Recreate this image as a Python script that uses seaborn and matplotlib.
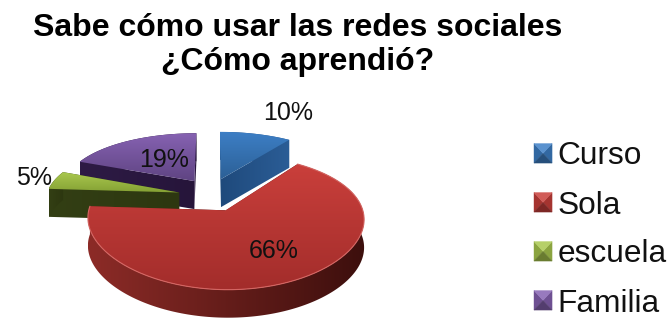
import numpy as np
import matplotlib
matplotlib.use("Agg")
import matplotlib.pyplot as plt
from matplotlib.colors import to_rgb
from matplotlib.patches import Patch, Polygon
from matplotlib.legend_handler import HandlerPatch
import seaborn as sns

title_lines = ["Sabe cómo usar las redes sociales", "¿Cómo aprendió?"]
categories = ["Curso", "Sola", "escuela", "Familia"]
percent_values = [10, 66, 5, 19]

face_light = ["#3d7fc6", "#c93f3b", "#a9c84e", "#8662b2"]
face_dark = ["#2c6096", "#a32d2b", "#84a034", "#5f4482"]
wall_left = ["#1f4a7c", "#8c2b27", "#333f14", "#2e1b45"]
wall_right = ["#2b5d96", "#3d0f0d", "#2d3710", "#26153a"]

sns.set_theme(style="white")
plt.rcParams["font.family"] = ["Liberation Sans", "DejaVu Sans"]
palette = sns.color_palette(face_light)

# Perspective used for the tilted pie, expressed in figure pixels
CX, CY = 210.0, 195.0
RX, RY = 133.0, 60.0
PERSPECTIVE_X, PERSPECTIVE_Y = 0.12, 0.17
EXPLODE = 0.27
DEPTH = 28.0
# Sideways and vertical pull on each pulled-out slice, in pixels
SLICE_NUDGE = {0: (0, -1), 1: (0, 0), 2: (4, 1), 3: (4, -1)}


def project(x, y):
    return (CX + x * RX / (1.0 + PERSPECTIVE_X * y),
            CY - y * RY / (1.0 + PERSPECTIVE_Y * y))


def mix(c0, c1, f):
    a, b = np.array(to_rgb(c0)), np.array(to_rgb(c1))
    return tuple(a + (b - a) * f)


def gradient_fill(ax, xy, first, last, z, horizontal=False):
    poly = Polygon(xy, closed=True, transform=ax.transData, fc="none", ec="none")
    ax.add_patch(poly)
    n = 64
    ramp = np.array([mix(first, last, i / (n - 1)) for i in range(n)])
    ramp = ramp[None, :, :] if horizontal else ramp[:, None, :]
    x0, y0 = xy.min(axis=0)
    x1, y1 = xy.max(axis=0)
    im = ax.imshow(ramp, extent=(x0, x1, y1, y0), aspect="auto", zorder=z,
                   interpolation="bilinear")
    im.set_clip_path(poly)


def draw_slice(ax, start, stop, i, z):
    mid = np.radians((start + stop) / 2)
    ox, oy = EXPLODE * np.sin(mid), EXPLODE * np.cos(mid)
    t = np.radians(np.linspace(start, stop, max(int(stop - start), 6) + 1))
    nudge = np.array(SLICE_NUDGE[i])
    rim = np.column_stack(project(ox + np.sin(t), oy + np.cos(t))) + nudge
    apex = np.array(project(ox, oy)) + nudge
    drop = np.array([0, DEPTH])
    left, right = wall_left[i], wall_right[i]
    # Flat cut faces at both ends of the slice
    for p in (rim[-1], rim[0]):
        quad = np.array([apex, p, p + drop, apex + drop])
        gradient_fill(ax, quad, left, right, z, horizontal=True)
    # Curved outer wall, shaded from left to right
    band = np.vstack([rim, (rim + drop)[::-1]])
    gradient_fill(ax, band, left, right, z + 0.1, horizontal=True)
    top = np.vstack([apex, rim])
    gradient_fill(ax, top, face_light[i], face_dark[i], z + 0.2)
    if stop - start > 90:
        ax.plot(rim[:, 0], rim[:, 1], color=mix(face_light[i], "white", 0.2),
                lw=0.8, zorder=z + 0.3)


class BevelHandler(HandlerPatch):
    def create_artists(self, legend, orig, xd, yd, w, h, fontsize, trans):
        base = orig.get_facecolor()
        x0, y0 = -xd, -yd
        x1, y1 = x0 + w, y0 + h
        cx, cy = (x0 + x1) / 2, (y0 + y1) / 2
        tris = [([x0, x0, cx], [y0, y1, cy], mix(base, "black", 0.18)),
                ([x1, x1, cx], [y0, y1, cy], mix(base, "black", 0.18)),
                ([x0, x1, cx], [y0, y0, cy], mix(base, "black", 0.38)),
                ([x0, x1, cx], [y1, y1, cy], mix(base, "white", 0.15))]
        return [Polygon(np.column_stack(p[:2]), fc=p[2], ec=p[2], lw=0.3, transform=trans)
                for p in tris]


fig = plt.figure(figsize=(6.68, 3.2), dpi=100, facecolor="white")
ax = fig.add_axes([0, 0, 1, 1])

edges = np.concatenate([[0], np.cumsum(percent_values)]) * 3.6
for z, i in enumerate([0, 3, 2, 1]):
    draw_slice(ax, edges[i], edges[i + 1], i, 2 + z)

ax.set_xlim(0, 668)
ax.set_ylim(320, 0)
ax.axis("off")

label_centres = [(288, 113), (274, 251), (34, 178), (164, 160)]
for value, (lx, ly) in zip(percent_values, label_centres):
    ax.text(lx, ly, f"{value}%", fontsize=18, color="#111111",
            ha="center", va="center", zorder=20)

for line, y in zip(title_lines, (28, 62)):
    ax.text(297.5, y, line, fontsize=23, fontweight="bold", color="black",
            ha="center", va="center", zorder=20)

handles = [Patch(facecolor=c, label=n) for c, n in zip(palette, categories)]
ax.legend(handles=handles, loc="center left", bbox_to_anchor=(534, 230),
          bbox_transform=ax.transData, frameon=False, fontsize=22.8,
          handlelength=0.57, handleheight=0.57, handletextpad=0.18,
          labelspacing=0.6, borderpad=0, borderaxespad=0,
          labelcolor="#111111", handler_map={Patch: BevelHandler()})

fig.savefig("out.png", dpi=100, facecolor="white")
